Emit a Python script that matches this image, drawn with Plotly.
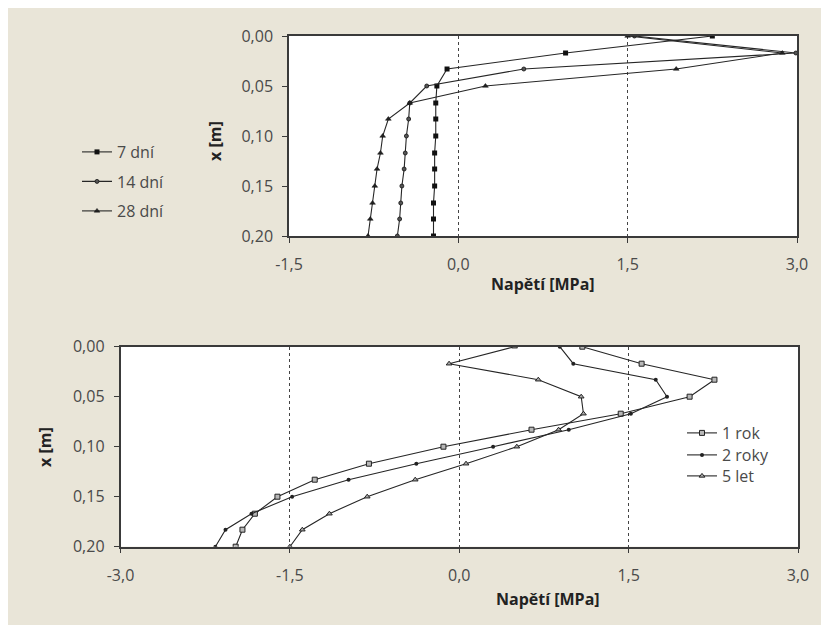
import plotly.graph_objects as go

# ---------------- data ----------------
depth_m = [0.000, 0.017, 0.033, 0.050, 0.067, 0.083, 0.100,
           0.117, 0.133, 0.150, 0.167, 0.183, 0.200]

# top chart (early ages)
stress_7d = [2.25, 0.95, -0.10, -0.19, -0.20, -0.20, -0.20, -0.21, -0.21, -0.21, -0.22, -0.22, -0.22]
stress_14d = [1.56, 2.99, 0.58, -0.28, -0.43, -0.44, -0.46, -0.47, -0.48, -0.50, -0.51, -0.52, -0.54]
stress_28d = [1.50, 2.87, 1.93, 0.24, -0.43, -0.62, -0.67, -0.69, -0.72, -0.74, -0.76, -0.78, -0.80]

# bottom chart (long term)
stress_1r = [1.09, 1.615, 2.26, 2.04, 1.43, 0.64, -0.14, -0.80, -1.28, -1.61, -1.81, -1.92, -1.98]
stress_2r = [0.89, 1.01, 1.74, 1.84, 1.52, 0.97, 0.30, -0.38, -0.98, -1.48, -1.84, -2.07, -2.16]
stress_5l = [0.49, -0.09, 0.70, 1.08, 1.10, 0.88, 0.51, 0.06, -0.39, -0.815, -1.15, -1.39, -1.50]

top_names = ["7 dní", "14 dní", "28 dní"]
bottom_names = ["1 rok", "2 roky", "5 let"]

top_xticks = [-1.5, 0.0, 1.5, 3.0]
top_xticktext = ["-1,5", "0,0", "1,5", "3,0"]
bot_xticks = [-3.0, -1.5, 0.0, 1.5, 3.0]
bot_xticktext = ["-3,0", "-1,5", "0,0", "1,5", "3,0"]
yticks = [0.00, 0.05, 0.10, 0.15, 0.20]
yticktext = ["0,00", "0,05", "0,10", "0,15", "0,20"]

x_title = "Napětí [MPa]"
y_title = "x [m]"

# ---------------- styling ----------------
OFF = 8                      # page body margin
W, H = 829 - OFF, 625 - OFF
BG = "rgb(233,229,216)"
LINE = "#262626"
AX = "#3a3a3a"
TXT = "#4a4a4a"
FONT = "Open Sans"

def px(x):
    return (x - OFF) / W

def py(y):
    return 1 - (y - OFF) / H

fig = go.Figure()

top_styles = [
    dict(symbol="square", size=5, color="#111", line=dict(color="#111", width=0)),
    dict(symbol="circle", size=4, color="#555", line=dict(color="#111", width=0.8)),
    dict(symbol="triangle-up", size=5, color="#222", line=dict(color="#111", width=0.5)),
]
top_legend_y = [152, 181.5, 211]
for i, (name, vals) in enumerate(zip(top_names, [stress_7d, stress_14d, stress_28d])):
    fig.add_trace(go.Scatter(
        x=vals, y=depth_m, name=name, mode="lines+markers",
        line=dict(color=LINE, width=1.1), marker=top_styles[i],
        xaxis="x", yaxis="y", legend="legend" if i == 0 else "legend%d" % (i + 1),
    ))

bot_styles = [
    dict(symbol="square", size=5, color="#b8b8b8", line=dict(color="#222", width=1)),
    dict(symbol="circle", size=4, color="#222", line=dict(color="#111", width=0)),
    dict(symbol="triangle-up", size=5, color="#aaa", line=dict(color="#222", width=1)),
]
bot_legend_y = [433, 455, 476]
for i, (name, vals) in enumerate(zip(bottom_names, [stress_1r, stress_2r, stress_5l])):
    fig.add_trace(go.Scatter(
        x=vals, y=depth_m, name=name, mode="lines+markers",
        line=dict(color=LINE, width=1.1), marker=bot_styles[i],
        xaxis="x2", yaxis="y2", legend="legend%d" % (i + 4),
    ))

axis_common = dict(
    showline=True, linecolor=AX, linewidth=1.5, mirror=True,
    ticks="outside", ticklen=5, tickcolor=AX, tickwidth=1,
    zeroline=False, automargin=False,
    tickfont=dict(family=FONT, size=16, color=TXT),
)

legends = {}
for i in range(3):
    key = "legend" if i == 0 else "legend%d" % (i + 1)
    legends[key] = dict(x=px(77), y=py(top_legend_y[i]), xanchor="left", yanchor="middle",
                        bgcolor="rgba(0,0,0,0)", borderwidth=0,
                        font=dict(family=FONT, size=16, color=TXT), itemwidth=30)
for i in range(3):
    key = "legend%d" % (i + 4)
    legends[key] = dict(x=px(682), y=py(bot_legend_y[i]), xanchor="left", yanchor="middle",
                        bgcolor="rgba(0,0,0,0)", borderwidth=0,
                        font=dict(family=FONT, size=16, color=TXT), itemwidth=30)

fig.update_layout(
    template="none",
    width=W, height=H, autosize=False,
    margin=dict(l=0, r=0, t=0, b=0, pad=0),
    paper_bgcolor=BG,
    plot_bgcolor="white",
    font=dict(family=FONT, color=TXT),
    showlegend=True,
    xaxis=dict(domain=[px(289), px(797)], range=[-1.5, 3.0], anchor="y",
               tickvals=top_xticks, ticktext=top_xticktext,
               showgrid=True, griddash="dot", gridcolor="#444", gridwidth=1,
               ticklabelstandoff=8, **axis_common),
    yaxis=dict(domain=[py(236), py(36)], range=[0.2, 0.0], anchor="x",
               tickvals=yticks, ticktext=yticktext, showgrid=False,
               ticklabelstandoff=6, **axis_common),
    xaxis2=dict(domain=[px(120.5), px(798)], range=[-3.0, 3.0], anchor="y2",
                tickvals=bot_xticks, ticktext=bot_xticktext,
                showgrid=True, griddash="dot", gridcolor="#444", gridwidth=1,
                ticklabelstandoff=8, **axis_common),
    yaxis2=dict(domain=[py(546.7), py(346.7)], range=[0.2, 0.0], anchor="x2",
                tickvals=yticks, ticktext=yticktext, showgrid=False,
                ticklabelstandoff=6, **axis_common),
    annotations=[
        dict(text="<b>%s</b>" % x_title, x=px(543), y=py(284), xref="paper", yref="paper",
             showarrow=False, font=dict(family=FONT, size=16, color="#222"),
             xanchor="center", yanchor="middle"),
        dict(text="<b>%s</b>" % x_title, x=px(548), y=py(599), xref="paper", yref="paper",
             showarrow=False, font=dict(family=FONT, size=16, color="#222"),
             xanchor="center", yanchor="middle"),
        dict(text="<b>%s</b>" % y_title, x=px(215), y=py(141), xref="paper", yref="paper",
             showarrow=False, textangle=-90, font=dict(family=FONT, size=16, color="#222"),
             xanchor="center", yanchor="middle"),
        dict(text="<b>%s</b>" % y_title, x=px(45), y=py(447), xref="paper", yref="paper",
             showarrow=False, textangle=-90, font=dict(family=FONT, size=16, color="#222"),
             xanchor="center", yanchor="middle"),
    ],
    **legends,
)

fig.write_html("out.html")
